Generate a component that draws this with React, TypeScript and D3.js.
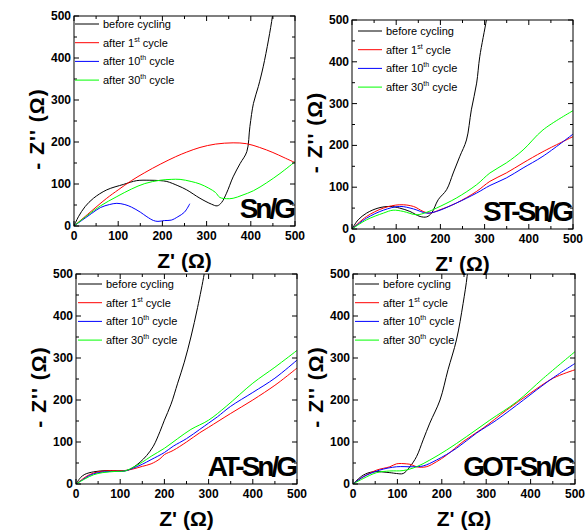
import React from "react";
import * as d3 from "d3";

// impedance (Nyquist) data, [Z', -Z''] in ohm
const ticks = [0, 100, 200, 300, 400, 500];
const minorTicks = [50, 150, 250, 350, 450];
const legendNames = ["before cycling", "after 1", "after 10", "after 30"];
const legendSup = ["", "st", "th", "th"];
const seriesColors = ["#000000", "#ff0000", "#0000ff", "#00ff00"];
const panelLabels = ["Sn/G", "ST-Sn/G", "AT-Sn/G", "GOT-Sn/G"];

// Sn/G
const snBefore = [[0, 0], [10, 22], [25, 46], [44, 66], [74, 86], [112, 99], [142, 108], [170, 109], [195, 108], [210, 106], [235, 96], [255, 86], [285, 66], [311, 52], [324, 48], [334, 56], [345, 78], [360, 117], [376, 149], [391, 177], [398, 237], [406, 292], [417, 332], [428, 379], [440, 443], [449, 500], [452, 530]];
const sn1st = [[0, 0], [30, 27], [74, 66], [100, 86], [130, 108], [160, 127], [195, 147], [230, 165], [255, 176], [285, 187], [320, 195], [360, 198], [390, 196], [420, 187], [450, 175], [475, 163], [500, 151]];
const sn10th = [[0, 0], [20, 15], [40, 30], [60, 44], [80, 51], [97, 54], [115, 51], [130, 45], [150, 33], [165, 22], [180, 13], [190, 11], [205, 13], [220, 14], [235, 22], [250, 33], [262, 53]];
const sn30th = [[0, 0], [30, 25], [60, 48], [97, 70], [130, 88], [160, 101], [195, 109], [220, 111], [240, 111], [265, 106], [285, 100], [305, 90], [320, 80], [330, 68], [345, 65], [360, 66], [380, 73], [406, 84], [436, 103], [466, 125], [500, 153]];

// ST-Sn/G
const stBefore = [[0, 0], [14, 22], [33, 38], [59, 50], [86, 54], [108, 50], [131, 42], [154, 30], [169, 29], [180, 38], [195, 70], [214, 94], [229, 134], [244, 174], [259, 213], [270, 285], [282, 349], [289, 412], [304, 500], [308, 530]];
const st1st = [[0, 0], [33, 30], [71, 50], [108, 58], [139, 54], [161, 42], [176, 38], [199, 46], [236, 62], [282, 90], [312, 114], [349, 134], [387, 158], [432, 185], [500, 221]];
const st10th = [[0, 0], [33, 26], [71, 45], [108, 54], [139, 48], [169, 38], [191, 42], [236, 62], [282, 86], [312, 104], [349, 122], [387, 146], [432, 174], [500, 227]];
const st30th = [[0, 0], [33, 22], [71, 38], [93, 45], [116, 42], [146, 34], [169, 40], [191, 50], [236, 74], [282, 106], [312, 134], [349, 158], [387, 189], [432, 237], [500, 283]];

// AT-Sn/G
const atBefore = [[0, 0], [10, 15], [20, 23], [40, 29], [70, 32], [100, 31], [115, 32], [130, 40], [145, 52], [160, 68], [175, 90], [190, 125], [200, 152], [215, 190], [230, 240], [245, 290], [260, 350], [275, 420], [290, 500], [294, 530]];
const at1st = [[0, 0], [15, 12], [30, 22], [50, 29], [80, 32], [110, 32], [130, 36], [150, 42], [170, 48], [190, 60], [200, 70], [220, 80], [250, 100], [280, 122], [300, 135], [350, 168], [400, 200], [450, 235], [475, 255], [500, 276]];
const at10th = [[0, 0], [15, 10], [30, 20], [50, 27], [80, 30], [110, 31], [130, 38], [150, 47], [170, 58], [200, 75], [220, 90], [250, 108], [280, 130], [300, 145], [320, 160], [350, 185], [400, 218], [450, 252], [500, 295]];
const at30th = [[0, 0], [20, 12], [40, 22], [60, 27], [90, 30], [110, 31], [130, 40], [150, 52], [170, 66], [200, 85], [230, 108], [260, 130], [300, 152], [340, 185], [400, 240], [450, 278], [500, 318]];

// GOT-Sn/G
const gotBefore = [[0, 0], [23, 21], [45, 29], [83, 27], [98, 25], [113, 25], [128, 41], [143, 65], [158, 105], [173, 145], [196, 200], [214, 272], [233, 343], [248, 430], [257, 494], [260, 530]];
const got1st = [[0, 0], [23, 17], [53, 33], [83, 41], [98, 48], [120, 48], [132, 46], [143, 41], [165, 41], [188, 53], [211, 69], [248, 101], [293, 133], [346, 176], [399, 216], [451, 252], [500, 272]];
const got10th = [[0, 0], [23, 17], [60, 33], [98, 41], [135, 41], [158, 43], [188, 57], [233, 85], [278, 121], [323, 152], [384, 200], [444, 248], [500, 287]];
const got30th = [[0, 0], [23, 13], [53, 27], [83, 31], [113, 32], [143, 41], [173, 57], [211, 81], [256, 113], [308, 152], [369, 196], [429, 252], [500, 315]];

const panelSeries = [
  [snBefore, sn1st, sn10th, sn30th],
  [stBefore, st1st, st10th, st30th],
  [atBefore, at1st, at10th, at30th],
  [gotBefore, got1st, got10th, got30th],
];

// frame boxes and legend offsets, in px
const layout = [
  { x: 74, y: 16, w: 221, h: 210, lx: 1, ty: 8 },
  { x: 352, y: 20, w: 221, h: 209, lx: 6, ty: 11 },
  { x: 76, y: 274, w: 221, h: 210, lx: 2, ty: 10 },
  { x: 353, y: 274, w: 222, h: 210, lx: 2, ty: 10 },
];

const font = "'Liberation Sans', Arial, sans-serif";

function Panel({ idx }: { idx: number }) {
  const p = layout[idx];
  const xs = d3.scaleLinear().domain([0, 500]).range([p.x, p.x + p.w]);
  const ys = d3.scaleLinear().domain([0, 500]).range([p.y + p.h, p.y]);
  const line = d3
    .line<number[]>()
    .x((d) => xs(d[0]))
    .y((d) => ys(d[1]))
    .curve(d3.curveCatmullRom.alpha(0.5));
  const clipId = `clip${idx}`;
  const left = p.x, right = p.x + p.w, top = p.y, bottom = p.y + p.h;

  return (
    <g>
      <defs>
        <clipPath id={clipId}>
          <rect x={left} y={top} width={p.w} height={p.h} />
        </clipPath>
      </defs>
      <g clipPath={`url(#${clipId})`}>
        {panelSeries[idx].map((s, i) => (
          <path key={i} d={line(s as number[][]) || ""} fill="none" stroke={seriesColors[i]} strokeWidth={1} />
        ))}
      </g>
      <rect x={left} y={top} width={p.w} height={p.h} fill="none" stroke="#000" strokeWidth={1} />
      {/* inward ticks on all four sides */}
      {ticks.map((t) => (
        <g key={"M" + t} stroke="#000" strokeWidth={1}>
          <line x1={xs(t)} x2={xs(t)} y1={bottom} y2={bottom - 5} />
          <line x1={xs(t)} x2={xs(t)} y1={top} y2={top + 5} />
          <line x1={left} x2={left + 5} y1={ys(t)} y2={ys(t)} />
          <line x1={right} x2={right - 5} y1={ys(t)} y2={ys(t)} />
        </g>
      ))}
      {minorTicks.map((t) => (
        <g key={"m" + t} stroke="#000" strokeWidth={1}>
          <line x1={xs(t)} x2={xs(t)} y1={bottom} y2={bottom - 3} />
          <line x1={xs(t)} x2={xs(t)} y1={top} y2={top + 3} />
          <line x1={left} x2={left + 3} y1={ys(t)} y2={ys(t)} />
          <line x1={right} x2={right - 3} y1={ys(t)} y2={ys(t)} />
        </g>
      ))}
      {ticks.map((t) => (
        <text key={"xl" + t} x={xs(t)} y={bottom + 14} textAnchor="middle" fontSize={12} fontWeight="bold" fontFamily={font}>
          {t}
        </text>
      ))}
      {ticks.map((t) => (
        <text key={"yl" + t} x={left - 3} y={ys(t) + 4} textAnchor="end" fontSize={12} fontWeight="bold" fontFamily={font}>
          {t}
        </text>
      ))}
      <text x={(left + right) / 2} y={bottom + 42} textAnchor="middle" fontSize={21} fontWeight="bold" fontFamily={font}>
        Z' (Ω)
      </text>
      <text
        transform={`translate(${left - 37},${(top + bottom) / 2 + 8}) rotate(-90)`}
        x={0}
        y={7}
        textAnchor="middle"
        fontSize={21}
        fontWeight="bold"
        letterSpacing={1}
        fontFamily={font}
      >
        - Z'' (Ω)
      </text>
      <text x={right - 2} y={bottom - 8} textAnchor="end" fontSize={28} fontWeight="bold" letterSpacing={-3} fontFamily={font}>
        {panelLabels[idx]}
      </text>
      {legendNames.map((name, i) => {
        const cy = top + p.ty + i * 18.7;
        return (
          <g key={"lg" + i}>
            <line x1={left + p.lx} x2={left + p.lx + 24} y1={cy} y2={cy} stroke={seriesColors[i]} strokeWidth={1} />
            <text x={left + p.lx + 28} y={cy + 4} fontSize={11} fontFamily={font}>
              {name}
              {legendSup[i] && (
                <tspan fontSize={7} dy={-5}>
                  {legendSup[i]}
                </tspan>
              )}
              {legendSup[i] && <tspan dy={5}> cycle</tspan>}
            </text>
          </g>
        );
      })}
    </g>
  );
}

export default function App() {
  return (
    <svg
      width={585}
      height={530}
      viewBox="0 0 585 530"
      style={{ position: "absolute", left: 0, top: 0, background: "#fff" }}
    >
      <rect width={585} height={530} fill="#fff" />
      {layout.map((_, i) => (
        <Panel key={i} idx={i} />
      ))}
    </svg>
  );
}
